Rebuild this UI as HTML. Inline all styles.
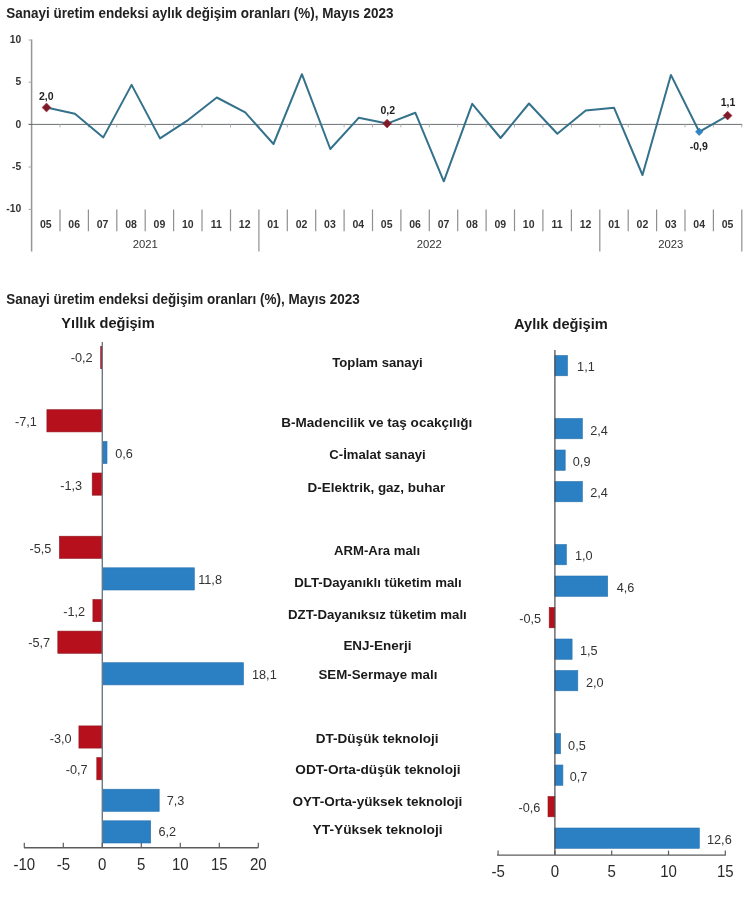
<!DOCTYPE html>
<html lang="tr">
<head>
<meta charset="utf-8">
<title>Sanayi üretim endeksi, Mayıs 2023</title>
<style>
html,body{margin:0;padding:0;background:#fff;}
body{width:752px;height:900px;overflow:hidden;font-family:"Liberation Sans", Arial, sans-serif;}
svg{display:block;}
svg text{font-family:"Liberation Sans", Arial, sans-serif;fill:#1c1c1c;}
.title{font-size:13.9px;font-weight:bold;fill:#222;}
.head2{font-size:15.5px;font-weight:bold;fill:#1a1a1a;}
.head{font-size:14.6px;font-weight:bold;fill:#1a1a1a;}
.cl{font-size:12.35px;font-weight:bold;fill:#1a1a1a;}
.val{font-size:12.7px;fill:#333;}
.xt{font-size:16px;fill:#2a2a2a;}
.ytick{font-size:10.3px;font-weight:bold;fill:#333;}
.mon{font-size:10.5px;font-weight:bold;fill:#333;}
.yr{font-size:11.3px;fill:#333;}
.pv{font-size:10.5px;font-weight:bold;fill:#222;}
</style>
</head>
<body>
<svg width="752" height="900" viewBox="0 0 752 900">
<rect x="0" y="0" width="752" height="900" fill="#ffffff"/>
<line x1="31.6" y1="39.5" x2="31.6" y2="251.5" stroke="#969696" stroke-width="1.5"/>
<line x1="28.6" y1="40.0" x2="31.6" y2="40.0" stroke="#a6a6a6" stroke-width="1"/>
<text x="21.2" y="42.9" text-anchor="end" class="ytick">10</text>
<line x1="28.6" y1="82.2" x2="31.6" y2="82.2" stroke="#a6a6a6" stroke-width="1"/>
<text x="21.2" y="85.1" text-anchor="end" class="ytick">5</text>
<line x1="28.6" y1="124.4" x2="31.6" y2="124.4" stroke="#a6a6a6" stroke-width="1"/>
<text x="21.2" y="128.0" text-anchor="end" class="ytick">0</text>
<line x1="28.6" y1="167.0" x2="31.6" y2="167.0" stroke="#a6a6a6" stroke-width="1"/>
<text x="21.2" y="169.9" text-anchor="end" class="ytick">-5</text>
<line x1="28.6" y1="209.4" x2="31.6" y2="209.4" stroke="#a6a6a6" stroke-width="1"/>
<text x="21.2" y="212.3" text-anchor="end" class="ytick">-10</text>
<line x1="28.6" y1="124.4" x2="742.3" y2="124.4" stroke="#5a5f63" stroke-width="0.9"/>
<line x1="60.0" y1="124.4" x2="60.0" y2="127.4" stroke="#aab3b9" stroke-width="1"/>
<line x1="88.4" y1="124.4" x2="88.4" y2="127.4" stroke="#aab3b9" stroke-width="1"/>
<line x1="116.8" y1="124.4" x2="116.8" y2="127.4" stroke="#aab3b9" stroke-width="1"/>
<line x1="145.2" y1="124.4" x2="145.2" y2="127.4" stroke="#aab3b9" stroke-width="1"/>
<line x1="173.6" y1="124.4" x2="173.6" y2="127.4" stroke="#aab3b9" stroke-width="1"/>
<line x1="202.0" y1="124.4" x2="202.0" y2="127.4" stroke="#aab3b9" stroke-width="1"/>
<line x1="230.5" y1="124.4" x2="230.5" y2="127.4" stroke="#aab3b9" stroke-width="1"/>
<line x1="258.9" y1="124.4" x2="258.9" y2="127.4" stroke="#aab3b9" stroke-width="1"/>
<line x1="287.3" y1="124.4" x2="287.3" y2="127.4" stroke="#aab3b9" stroke-width="1"/>
<line x1="315.7" y1="124.4" x2="315.7" y2="127.4" stroke="#aab3b9" stroke-width="1"/>
<line x1="344.1" y1="124.4" x2="344.1" y2="127.4" stroke="#aab3b9" stroke-width="1"/>
<line x1="372.5" y1="124.4" x2="372.5" y2="127.4" stroke="#aab3b9" stroke-width="1"/>
<line x1="400.9" y1="124.4" x2="400.9" y2="127.4" stroke="#aab3b9" stroke-width="1"/>
<line x1="429.3" y1="124.4" x2="429.3" y2="127.4" stroke="#aab3b9" stroke-width="1"/>
<line x1="457.7" y1="124.4" x2="457.7" y2="127.4" stroke="#aab3b9" stroke-width="1"/>
<line x1="486.1" y1="124.4" x2="486.1" y2="127.4" stroke="#aab3b9" stroke-width="1"/>
<line x1="514.5" y1="124.4" x2="514.5" y2="127.4" stroke="#aab3b9" stroke-width="1"/>
<line x1="542.9" y1="124.4" x2="542.9" y2="127.4" stroke="#aab3b9" stroke-width="1"/>
<line x1="571.4" y1="124.4" x2="571.4" y2="127.4" stroke="#aab3b9" stroke-width="1"/>
<line x1="599.8" y1="124.4" x2="599.8" y2="127.4" stroke="#aab3b9" stroke-width="1"/>
<line x1="628.2" y1="124.4" x2="628.2" y2="127.4" stroke="#aab3b9" stroke-width="1"/>
<line x1="656.6" y1="124.4" x2="656.6" y2="127.4" stroke="#aab3b9" stroke-width="1"/>
<line x1="685.0" y1="124.4" x2="685.0" y2="127.4" stroke="#aab3b9" stroke-width="1"/>
<line x1="713.4" y1="124.4" x2="713.4" y2="127.4" stroke="#aab3b9" stroke-width="1"/>
<line x1="741.8" y1="124.4" x2="741.8" y2="127.4" stroke="#aab3b9" stroke-width="1"/>
<line x1="60.0" y1="209.4" x2="60.0" y2="231.2" stroke="#909090" stroke-width="1.2"/>
<line x1="88.4" y1="209.4" x2="88.4" y2="231.2" stroke="#909090" stroke-width="1.2"/>
<line x1="116.8" y1="209.4" x2="116.8" y2="231.2" stroke="#909090" stroke-width="1.2"/>
<line x1="145.2" y1="209.4" x2="145.2" y2="231.2" stroke="#909090" stroke-width="1.2"/>
<line x1="173.6" y1="209.4" x2="173.6" y2="231.2" stroke="#909090" stroke-width="1.2"/>
<line x1="202.0" y1="209.4" x2="202.0" y2="231.2" stroke="#909090" stroke-width="1.2"/>
<line x1="230.5" y1="209.4" x2="230.5" y2="231.2" stroke="#909090" stroke-width="1.2"/>
<line x1="258.9" y1="209.4" x2="258.9" y2="251.5" stroke="#909090" stroke-width="1.2"/>
<line x1="287.3" y1="209.4" x2="287.3" y2="231.2" stroke="#909090" stroke-width="1.2"/>
<line x1="315.7" y1="209.4" x2="315.7" y2="231.2" stroke="#909090" stroke-width="1.2"/>
<line x1="344.1" y1="209.4" x2="344.1" y2="231.2" stroke="#909090" stroke-width="1.2"/>
<line x1="372.5" y1="209.4" x2="372.5" y2="231.2" stroke="#909090" stroke-width="1.2"/>
<line x1="400.9" y1="209.4" x2="400.9" y2="231.2" stroke="#909090" stroke-width="1.2"/>
<line x1="429.3" y1="209.4" x2="429.3" y2="231.2" stroke="#909090" stroke-width="1.2"/>
<line x1="457.7" y1="209.4" x2="457.7" y2="231.2" stroke="#909090" stroke-width="1.2"/>
<line x1="486.1" y1="209.4" x2="486.1" y2="231.2" stroke="#909090" stroke-width="1.2"/>
<line x1="514.5" y1="209.4" x2="514.5" y2="231.2" stroke="#909090" stroke-width="1.2"/>
<line x1="542.9" y1="209.4" x2="542.9" y2="231.2" stroke="#909090" stroke-width="1.2"/>
<line x1="571.4" y1="209.4" x2="571.4" y2="231.2" stroke="#909090" stroke-width="1.2"/>
<line x1="599.8" y1="209.4" x2="599.8" y2="251.5" stroke="#909090" stroke-width="1.2"/>
<line x1="628.2" y1="209.4" x2="628.2" y2="231.2" stroke="#909090" stroke-width="1.2"/>
<line x1="656.6" y1="209.4" x2="656.6" y2="231.2" stroke="#909090" stroke-width="1.2"/>
<line x1="685.0" y1="209.4" x2="685.0" y2="231.2" stroke="#909090" stroke-width="1.2"/>
<line x1="713.4" y1="209.4" x2="713.4" y2="231.2" stroke="#909090" stroke-width="1.2"/>
<line x1="741.8" y1="209.4" x2="741.8" y2="251.5" stroke="#909090" stroke-width="1.2"/>
<text x="45.8" y="228" text-anchor="middle" class="mon">05</text>
<text x="74.2" y="228" text-anchor="middle" class="mon">06</text>
<text x="102.6" y="228" text-anchor="middle" class="mon">07</text>
<text x="131.0" y="228" text-anchor="middle" class="mon">08</text>
<text x="159.4" y="228" text-anchor="middle" class="mon">09</text>
<text x="187.8" y="228" text-anchor="middle" class="mon">10</text>
<text x="216.3" y="228" text-anchor="middle" class="mon">11</text>
<text x="244.7" y="228" text-anchor="middle" class="mon">12</text>
<text x="273.1" y="228" text-anchor="middle" class="mon">01</text>
<text x="301.5" y="228" text-anchor="middle" class="mon">02</text>
<text x="329.9" y="228" text-anchor="middle" class="mon">03</text>
<text x="358.3" y="228" text-anchor="middle" class="mon">04</text>
<text x="386.7" y="228" text-anchor="middle" class="mon">05</text>
<text x="415.1" y="228" text-anchor="middle" class="mon">06</text>
<text x="443.5" y="228" text-anchor="middle" class="mon">07</text>
<text x="471.9" y="228" text-anchor="middle" class="mon">08</text>
<text x="500.3" y="228" text-anchor="middle" class="mon">09</text>
<text x="528.7" y="228" text-anchor="middle" class="mon">10</text>
<text x="557.1" y="228" text-anchor="middle" class="mon">11</text>
<text x="585.6" y="228" text-anchor="middle" class="mon">12</text>
<text x="614.0" y="228" text-anchor="middle" class="mon">01</text>
<text x="642.4" y="228" text-anchor="middle" class="mon">02</text>
<text x="670.8" y="228" text-anchor="middle" class="mon">03</text>
<text x="699.2" y="228" text-anchor="middle" class="mon">04</text>
<text x="727.6" y="228" text-anchor="middle" class="mon">05</text>
<text x="145.2" y="247.8" text-anchor="middle" class="yr">2021</text>
<text x="429.3" y="247.8" text-anchor="middle" class="yr">2022</text>
<text x="670.8" y="247.8" text-anchor="middle" class="yr">2023</text>
<polyline points="46.5,107.5 74.9,113.8 103.3,137.4 131.6,84.9 160.0,138.4 188.4,119.8 216.8,97.5 245.2,112.4 273.5,144.0 301.9,74.2 330.3,149.0 358.7,117.8 387.1,123.6 415.4,112.8 443.8,181.3 472.2,103.8 500.6,138.0 529.0,103.5 557.3,133.7 585.7,110.5 614.1,107.8 642.5,175.0 670.9,74.9 699.2,131.8 727.6,115.6" fill="none" stroke="#34718b" stroke-width="2" stroke-linejoin="round"/>
<path d="M42.1 107.5 L46.5 103.1 L50.9 107.5 L46.5 111.9 Z" fill="#7d1b2b" stroke="#a03040" stroke-width="0.6"/>
<path d="M382.7 123.6 L387.1 119.2 L391.5 123.6 L387.1 128.0 Z" fill="#7d1b2b" stroke="#a03040" stroke-width="0.6"/>
<path d="M723.2 115.6 L727.6 111.2 L732.0 115.6 L727.6 120.0 Z" fill="#7d1b2b" stroke="#a03040" stroke-width="0.6"/>
<path d="M695.5 131.8 L699.2 128.1 L702.9 131.8 L699.2 135.5 Z" fill="#2e86c6" stroke="#2a6f9e" stroke-width="0.6"/>
<text x="46.2" y="99.5" text-anchor="middle" class="pv">2,0</text>
<text x="387.8" y="113.8" text-anchor="middle" class="pv">0,2</text>
<text x="728" y="105.9" text-anchor="middle" class="pv">1,1</text>
<text x="698.8" y="150.1" text-anchor="middle" class="pv">-0,9</text>
<text x="6.3" y="17.5" textLength="387.2" lengthAdjust="spacingAndGlyphs" class="title">Sanayi üretim endeksi aylık değişim oranları (%), Mayıs 2023</text>
<text x="6.3" y="304.2" textLength="353.4" lengthAdjust="spacingAndGlyphs" class="title">Sanayi üretim endeksi değişim oranları (%), Mayıs 2023</text>
<text x="108.0" y="327.8" text-anchor="middle" class="head">Yıllık değişim</text>
<text transform="translate(560.9 328.8) scale(0.945 1)" text-anchor="middle" class="head2">Aylık değişim</text>
<rect x="100.7" y="346.5" width="1.6" height="22.2" fill="#b5101c" stroke="#8f1a22" stroke-width="0.6"/>
<rect x="46.9" y="409.7" width="55.4" height="22.2" fill="#b5101c" stroke="#8f1a22" stroke-width="0.6"/>
<rect x="102.3" y="441.4" width="4.7" height="22.2" fill="#2b7fc3" stroke="#2b74b0" stroke-width="0.6"/>
<rect x="92.2" y="473.0" width="10.1" height="22.2" fill="#b5101c" stroke="#8f1a22" stroke-width="0.6"/>
<rect x="59.4" y="536.2" width="42.9" height="22.2" fill="#b5101c" stroke="#8f1a22" stroke-width="0.6"/>
<rect x="102.3" y="567.8" width="92.0" height="22.2" fill="#2b7fc3" stroke="#2b74b0" stroke-width="0.6"/>
<rect x="92.9" y="599.5" width="9.4" height="22.2" fill="#b5101c" stroke="#8f1a22" stroke-width="0.6"/>
<rect x="57.8" y="631.1" width="44.5" height="22.2" fill="#b5101c" stroke="#8f1a22" stroke-width="0.6"/>
<rect x="102.3" y="662.7" width="141.2" height="22.2" fill="#2b7fc3" stroke="#2b74b0" stroke-width="0.6"/>
<rect x="78.9" y="725.9" width="23.4" height="22.2" fill="#b5101c" stroke="#8f1a22" stroke-width="0.6"/>
<rect x="96.8" y="757.6" width="5.5" height="22.2" fill="#b5101c" stroke="#8f1a22" stroke-width="0.6"/>
<rect x="102.3" y="789.2" width="56.9" height="22.2" fill="#2b7fc3" stroke="#2b74b0" stroke-width="0.6"/>
<rect x="102.3" y="820.8" width="48.4" height="22.2" fill="#2b7fc3" stroke="#2b74b0" stroke-width="0.6"/>
<line x1="102.3" y1="342" x2="102.3" y2="847.8" stroke="#6d7a86" stroke-width="1.4"/>
<line x1="24" y1="847.8" x2="258.2" y2="847.8" stroke="#5c5c5c" stroke-width="1.4"/>
<line x1="24.3" y1="842.7" x2="24.3" y2="847.8" stroke="#5c5c5c" stroke-width="1.2"/>
<text transform="translate(24.3 869.6) scale(0.94 1)" text-anchor="middle" class="xt">-10</text>
<line x1="63.3" y1="842.7" x2="63.3" y2="847.8" stroke="#5c5c5c" stroke-width="1.2"/>
<text transform="translate(63.3 869.6) scale(0.94 1)" text-anchor="middle" class="xt">-5</text>
<line x1="102.3" y1="842.7" x2="102.3" y2="847.8" stroke="#5c5c5c" stroke-width="1.2"/>
<text transform="translate(102.3 869.6) scale(0.94 1)" text-anchor="middle" class="xt">0</text>
<line x1="141.3" y1="842.7" x2="141.3" y2="847.8" stroke="#5c5c5c" stroke-width="1.2"/>
<text transform="translate(141.3 869.6) scale(0.94 1)" text-anchor="middle" class="xt">5</text>
<line x1="180.3" y1="842.7" x2="180.3" y2="847.8" stroke="#5c5c5c" stroke-width="1.2"/>
<text transform="translate(180.3 869.6) scale(0.94 1)" text-anchor="middle" class="xt">10</text>
<line x1="219.3" y1="842.7" x2="219.3" y2="847.8" stroke="#5c5c5c" stroke-width="1.2"/>
<text transform="translate(219.3 869.6) scale(0.94 1)" text-anchor="middle" class="xt">15</text>
<line x1="258.3" y1="842.7" x2="258.3" y2="847.8" stroke="#5c5c5c" stroke-width="1.2"/>
<text transform="translate(258.3 869.6) scale(0.94 1)" text-anchor="middle" class="xt">20</text>
<text x="92.7" y="362.4" text-anchor="end" class="val">-0,2</text>
<text x="36.8" y="426.0" text-anchor="end" class="val">-7,1</text>
<text x="115.2" y="457.7" class="val">0,6</text>
<text x="82.1" y="490.2" text-anchor="end" class="val">-1,3</text>
<text x="51.3" y="552.5" text-anchor="end" class="val">-5,5</text>
<text x="198.2" y="584.3" class="val">11,8</text>
<text x="85.2" y="615.6" text-anchor="end" class="val">-1,2</text>
<text x="50.1" y="646.8" text-anchor="end" class="val">-5,7</text>
<text x="252.0" y="678.8" class="val">18,1</text>
<text x="71.6" y="742.5" text-anchor="end" class="val">-3,0</text>
<text x="87.6" y="774.4" text-anchor="end" class="val">-0,7</text>
<text x="166.7" y="804.7" class="val">7,3</text>
<text x="158.4" y="836.2" class="val">6,2</text>
<rect x="554.9" y="355.5" width="12.6" height="20.3" fill="#2b7fc3" stroke="#2b74b0" stroke-width="0.6"/>
<rect x="554.9" y="418.5" width="27.5" height="20.3" fill="#2b7fc3" stroke="#2b74b0" stroke-width="0.6"/>
<rect x="554.9" y="450.0" width="10.3" height="20.3" fill="#2b7fc3" stroke="#2b74b0" stroke-width="0.6"/>
<rect x="554.9" y="481.5" width="27.5" height="20.3" fill="#2b7fc3" stroke="#2b74b0" stroke-width="0.6"/>
<rect x="554.9" y="544.5" width="11.5" height="20.3" fill="#2b7fc3" stroke="#2b74b0" stroke-width="0.6"/>
<rect x="554.9" y="576.0" width="52.8" height="20.3" fill="#2b7fc3" stroke="#2b74b0" stroke-width="0.6"/>
<rect x="549.2" y="607.5" width="5.7" height="20.3" fill="#b5101c" stroke="#8f1a22" stroke-width="0.6"/>
<rect x="554.9" y="639.0" width="17.2" height="20.3" fill="#2b7fc3" stroke="#2b74b0" stroke-width="0.6"/>
<rect x="554.9" y="670.5" width="22.9" height="20.3" fill="#2b7fc3" stroke="#2b74b0" stroke-width="0.6"/>
<rect x="554.9" y="733.5" width="5.7" height="20.3" fill="#2b7fc3" stroke="#2b74b0" stroke-width="0.6"/>
<rect x="554.9" y="765.0" width="8.0" height="20.3" fill="#2b7fc3" stroke="#2b74b0" stroke-width="0.6"/>
<rect x="548.0" y="796.5" width="6.9" height="20.3" fill="#b5101c" stroke="#8f1a22" stroke-width="0.6"/>
<rect x="554.9" y="828.0" width="144.5" height="20.3" fill="#2b7fc3" stroke="#2b74b0" stroke-width="0.6"/>
<line x1="554.9" y1="350" x2="554.9" y2="855.1" stroke="#4a4a4a" stroke-width="1.2"/>
<line x1="497" y1="855.1" x2="725.8" y2="855.1" stroke="#5c5c5c" stroke-width="1.4"/>
<line x1="498.1" y1="850.6" x2="498.1" y2="855.1" stroke="#5c5c5c" stroke-width="1.2"/>
<text transform="translate(498.1 877.0) scale(0.94 1)" text-anchor="middle" class="xt">-5</text>
<line x1="554.9" y1="850.6" x2="554.9" y2="855.1" stroke="#5c5c5c" stroke-width="1.2"/>
<text transform="translate(554.9 877.0) scale(0.94 1)" text-anchor="middle" class="xt">0</text>
<line x1="611.7" y1="850.6" x2="611.7" y2="855.1" stroke="#5c5c5c" stroke-width="1.2"/>
<text transform="translate(611.7 877.0) scale(0.94 1)" text-anchor="middle" class="xt">5</text>
<line x1="668.5" y1="850.6" x2="668.5" y2="855.1" stroke="#5c5c5c" stroke-width="1.2"/>
<text transform="translate(668.5 877.0) scale(0.94 1)" text-anchor="middle" class="xt">10</text>
<line x1="725.3" y1="850.6" x2="725.3" y2="855.1" stroke="#5c5c5c" stroke-width="1.2"/>
<text transform="translate(725.3 877.0) scale(0.94 1)" text-anchor="middle" class="xt">15</text>
<text x="577.1" y="371.0" class="val">1,1</text>
<text x="590.2" y="434.9" class="val">2,4</text>
<text x="572.8" y="466.2" class="val">0,9</text>
<text x="590.2" y="497.1" class="val">2,4</text>
<text x="574.9" y="559.8" class="val">1,0</text>
<text x="616.7" y="591.7" class="val">4,6</text>
<text x="541.2" y="623.2" text-anchor="end" class="val">-0,5</text>
<text x="580.0" y="655.1" class="val">1,5</text>
<text x="586.0" y="687.0" class="val">2,0</text>
<text x="568.1" y="749.7" class="val">0,5</text>
<text x="569.7" y="780.8" class="val">0,7</text>
<text x="540.4" y="812.3" text-anchor="end" class="val">-0,6</text>
<text x="707.0" y="844.4" class="val">12,6</text>
<text x="332.3" y="366.8" textLength="90.3" lengthAdjust="spacingAndGlyphs" class="cl">Toplam sanayi</text>
<text x="281.3" y="427.0" textLength="191.0" lengthAdjust="spacingAndGlyphs" class="cl">B-Madencilik ve taş ocakçılığı</text>
<text x="329.3" y="459.2" textLength="96.4" lengthAdjust="spacingAndGlyphs" class="cl">C-İmalat sanayi</text>
<text x="307.6" y="491.6" textLength="137.6" lengthAdjust="spacingAndGlyphs" class="cl">D-Elektrik, gaz, buhar</text>
<text x="334.0" y="554.6" textLength="86.1" lengthAdjust="spacingAndGlyphs" class="cl">ARM-Ara malı</text>
<text x="294.3" y="586.7" textLength="167.4" lengthAdjust="spacingAndGlyphs" class="cl">DLT-Dayanıklı tüketim malı</text>
<text x="288.0" y="619.3" textLength="178.8" lengthAdjust="spacingAndGlyphs" class="cl">DZT-Dayanıksız tüketim malı</text>
<text x="343.4" y="649.6" textLength="68.1" lengthAdjust="spacingAndGlyphs" class="cl">ENJ-Enerji</text>
<text x="318.5" y="679.0" textLength="118.9" lengthAdjust="spacingAndGlyphs" class="cl">SEM-Sermaye malı</text>
<text x="315.7" y="743.0" textLength="122.8" lengthAdjust="spacingAndGlyphs" class="cl">DT-Düşük teknoloji</text>
<text x="295.3" y="774.3" textLength="165.3" lengthAdjust="spacingAndGlyphs" class="cl">ODT-Orta-düşük teknoloji</text>
<text x="292.5" y="805.9" textLength="169.8" lengthAdjust="spacingAndGlyphs" class="cl">OYT-Orta-yüksek teknoloji</text>
<text x="312.6" y="834.4" textLength="130.0" lengthAdjust="spacingAndGlyphs" class="cl">YT-Yüksek teknoloji</text>
</svg>
</body>
</html>
